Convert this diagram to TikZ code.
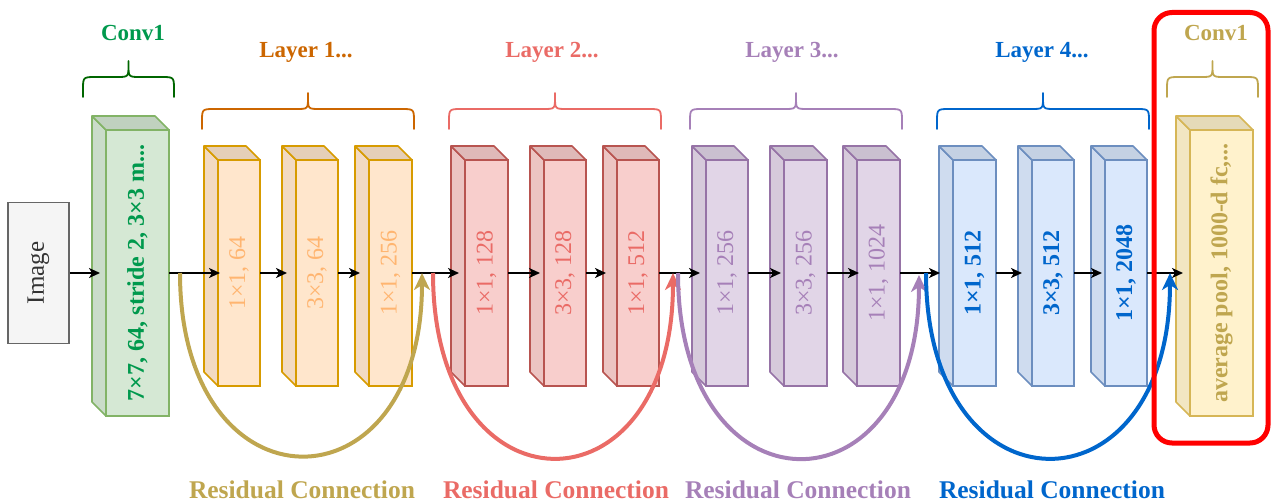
\documentclass[tikz,border=0pt]{standalone}
\usepackage{fontspec}
\setmainfont{Liberation Serif}
\usetikzlibrary{arrows.meta}
\definecolor{grnF}{HTML}{D5E8D4}\definecolor{grnD}{HTML}{82B366}\definecolor{grnT}{HTML}{00994D}\definecolor{grnB}{HTML}{006600}
\definecolor{ornF}{HTML}{FFE6CC}\definecolor{ornD}{HTML}{D79B00}\definecolor{ornL}{HTML}{FFB570}\definecolor{ornT}{HTML}{CC6600}
\definecolor{redF}{HTML}{F8CECC}\definecolor{redD}{HTML}{B85450}\definecolor{redT}{HTML}{EA6B66}
\definecolor{purF}{HTML}{E1D5E7}\definecolor{purD}{HTML}{9673A6}\definecolor{purT}{HTML}{A680B8}
\definecolor{bluF}{HTML}{DAE8FC}\definecolor{bluD}{HTML}{6C8EBF}\definecolor{bluT}{HTML}{0066CC}
\definecolor{yelF}{HTML}{FFF2CC}\definecolor{yelD}{HTML}{D6B656}\definecolor{yelT}{HTML}{BFA64F}
\definecolor{imgF}{HTML}{F5F5F5}\definecolor{imgD}{HTML}{666666}\definecolor{imgT}{HTML}{333333}
\definecolor{hlred}{HTML}{FF0000}
\tikzset{
  every node/.style={font=\fontsize{24}{28}\selectfont},
  bfont/.style={font=\fontsize{24}{28}\selectfont\bfseries},
  tfont/.style={font=\fontsize{23}{27}\selectfont\bfseries},
  cubefront/.style={rectangle, line width=1.6pt, outer sep=0pt, inner sep=0pt},
  cubeG/.style={draw=grnD, fill=grnF, text=grnT, bfont},
  cubeGtop/.style={draw=grnD, fill=grnF!90!black, line width=1.6pt, line join=round},
  cubeGside/.style={draw=grnD, fill=grnF!95!black, line width=1.6pt, line join=round},
  cubeO/.style={draw=ornD, fill=ornF, text=ornL},
  cubeOtop/.style={draw=ornD, fill=ornF!90!black, line width=1.6pt, line join=round},
  cubeOside/.style={draw=ornD, fill=ornF!95!black, line width=1.6pt, line join=round},
  cubeR/.style={draw=redD, fill=redF, text=redT},
  cubeRtop/.style={draw=redD, fill=redF!90!black, line width=1.6pt, line join=round},
  cubeRside/.style={draw=redD, fill=redF!95!black, line width=1.6pt, line join=round},
  cubeP/.style={draw=purD, fill=purF, text=purT},
  cubePtop/.style={draw=purD, fill=purF!90!black, line width=1.6pt, line join=round},
  cubePside/.style={draw=purD, fill=purF!95!black, line width=1.6pt, line join=round},
  cubeB/.style={draw=bluD, fill=bluF, text=bluT, bfont},
  cubeBtop/.style={draw=bluD, fill=bluF!90!black, line width=1.6pt, line join=round},
  cubeBside/.style={draw=bluD, fill=bluF!95!black, line width=1.6pt, line join=round},
  cubeY/.style={draw=yelD, fill=yelF, text=yelT, bfont},
  cubeYtop/.style={draw=yelD, fill=yelF!90!black, line width=1.6pt, line join=round},
  cubeYside/.style={draw=yelD, fill=yelF!95!black, line width=1.6pt, line join=round},
  imgbox/.style={rectangle, draw=imgD, fill=imgF, text=imgT, line width=1.6pt, inner sep=0pt},
  flow/.style={draw=black, line width=1.7pt, -{Stealth[length=11pt,width=10pt,inset=3pt]}},
  resid/.style={line width=4pt, -{Stealth[length=17pt,width=16pt,inset=5pt]}},
  bracestyle/.style={line width=1.8pt, line cap=round, line join=round},
  hlbox/.style={rectangle, draw=hlred, line width=5pt, rounded corners=18pt, inner sep=0pt},
  title/.style={tfont, anchor=center},
  reslabel/.style={font=\fontsize{25.5}{30}\selectfont\bfseries},
}
\newcommand{\mycube}[7]{%
  \node[cubefront,#2,minimum width={(#5-#3-14)*1pt},minimum height={(#6-#4-14)*1pt}] (#1) at ({(#3+14+#5)/2},{(#4+14+#6)/2}) {\rotatebox{90}{#7}};
  \filldraw[#2side] (#1.north west) -- ++(-14,-14) -- ([shift={(-14,-14)}]#1.south west) -- (#1.south west) -- cycle;
  \filldraw[#2top] (#1.north west) -- ++(-14,-14) -- ([shift={(-14,-14)}]#1.north east) -- (#1.north east) -- cycle;
}
\newcommand{\mybrace}[4]{%
  \draw[bracestyle,#1] ({#2},{#4+20}) -- ({#2},{#4+13}) .. controls ({#2},{#4}) .. ({#2+13},{#4}) -- ({(#2+#3)/2-12},{#4}) .. controls ({(#2+#3)/2},{#4}) .. ({(#2+#3)/2},{#4-12}) -- ({(#2+#3)/2},{#4-16})
    ({#3},{#4+20}) -- ({#3},{#4+13}) .. controls ({#3},{#4}) .. ({#3-13},{#4}) -- ({(#2+#3)/2+12},{#4}) .. controls ({(#2+#3)/2},{#4}) .. ({(#2+#3)/2},{#4-12});
}
\begin{document}
\begin{tikzpicture}[x=1pt,y=-1pt]
\useasboundingbox (0,0) rectangle (1272,503);
% input
\node[imgbox, minimum width=61pt, minimum height=141pt, font=\fontsize{25}{29}\selectfont] (img) at (38.5,273) {\rotatebox{90}{Image}};
% cubes
\mycube{conv}{cubeG}{92}{116}{169}{416}{7×7, 64, stride 2, 3×3 m...}
\mycube{oa}{cubeO}{204}{146}{260}{386}{1×1, 64}
\mycube{ob}{cubeO}{282}{146}{338}{386}{3×3, 64}
\mycube{oc}{cubeO}{355}{146}{412}{386}{1×1, 256}
\mycube{ra}{cubeR}{451}{146}{508}{386}{1×1, 128}
\mycube{rb}{cubeR}{530}{146}{586}{386}{3×3, 128}
\mycube{rc}{cubeR}{603}{146}{659}{386}{1×1, 512}
\mycube{pa}{cubeP}{692}{146}{748}{386}{1×1, 256}
\mycube{pb}{cubeP}{770}{146}{827}{386}{3×3, 256}
\mycube{pc}{cubeP}{843}{146}{900}{386}{1×1, 1024}
\mycube{ba}{cubeB}{939}{146}{996}{386}{1×1, 512}
\mycube{bb}{cubeB}{1018}{146}{1074}{386}{3×3, 512}
\mycube{bc}{cubeB}{1091}{146}{1147}{386}{1×1, 2048}
\mycube{fc}{cubeY}{1176}{116}{1253}{416}{average pool, 1000-d fc,...}
% braces and titles
\mybrace{grnB}{83}{174}{77}
\mybrace{ornT}{202}{414}{109}
\mybrace{redT}{449}{661}{109}
\mybrace{purT}{690}{902}{109}
\mybrace{bluT}{937}{1149}{109}
\mybrace{yelT}{1167}{1258}{77}
\node[title, text=grnT] (t0) at (133,33) {Conv1};
\node[title, text=ornT] (t1) at (306,52) {Layer 1...};
\node[title, text=redT] (t2) at (552,52) {Layer 2...};
\node[title, text=purT] (t3) at (792,52) {Layer 3...};
\node[title, text=bluT] (t4) at (1042,52) {Layer 4...};
\node[title, text=yelT] (t5) at (1216,33) {Conv1};
% main flow
\draw[flow] (img.east) -- ([xshift=-6pt]conv.west);
\draw[flow] (conv.east) -- ([xshift=2pt]oa.west);
\draw[flow] (oa.east) -- ([xshift=-9pt]ob.west);
\draw[flow] (ob.east) -- ([xshift=-9pt]oc.west);
\draw[flow] (oc.east) -- ([xshift=-6pt]ra.west);
\draw[flow] (ra.east) -- ([xshift=-4pt]rb.west);
\draw[flow] (rb.east) -- ([xshift=-11pt]rc.west);
\draw[flow] (rc.east) -- ([xshift=-6pt]pa.west);
\draw[flow] (pa.east) -- ([xshift=-3pt]pb.west);
\draw[flow] (pb.east) -- ([xshift=2pt]pc.west);
\draw[flow] (pc.east) -- ([xshift=-13pt]ba.west);
\draw[flow] (ba.east) -- ([xshift=-10pt]bb.west);
\draw[flow] (bb.east) -- ([xshift=-3pt]bc.west);
\draw[flow] (bc.east) -- ([xshift=-7pt]fc.west);
% residual connections
\coordinate (gs) at (180,273); \coordinate (ge) at (422,273);
\coordinate (rs) at (433,273); \coordinate (re) at (673,273);
\coordinate (ps) at (678,273); \coordinate (pe) at (919,275);
\coordinate (bs) at (926,273); \coordinate (be) at (1170,273);
\draw[resid, draw=yelT] (gs) .. controls +(0,243) and +(0,243) .. (ge);
\draw[resid, draw=redT] (rs) .. controls +(0,246) and +(0,246) .. (re);
\draw[resid, draw=purT] (ps) .. controls +(0,246) and +(0,244) .. (pe);
\draw[resid, draw=bluT] (bs) .. controls +(0,246) and +(0,246) .. (be);
\node[reslabel, text=yelT] (l1) at (302,490) {Residual Connection};
\node[reslabel, text=redT] (l2) at (556,490) {Residual Connection};
\node[reslabel, text=purT] (l3) at (798,490) {Residual Connection};
\node[reslabel, text=bluT] (l4) at (1052,490) {Residual Connection};
% highlight
\node[hlbox, minimum width=114pt, minimum height=430.5pt] (hl) at (1211,227.75) {};
\end{tikzpicture}
\end{document}
